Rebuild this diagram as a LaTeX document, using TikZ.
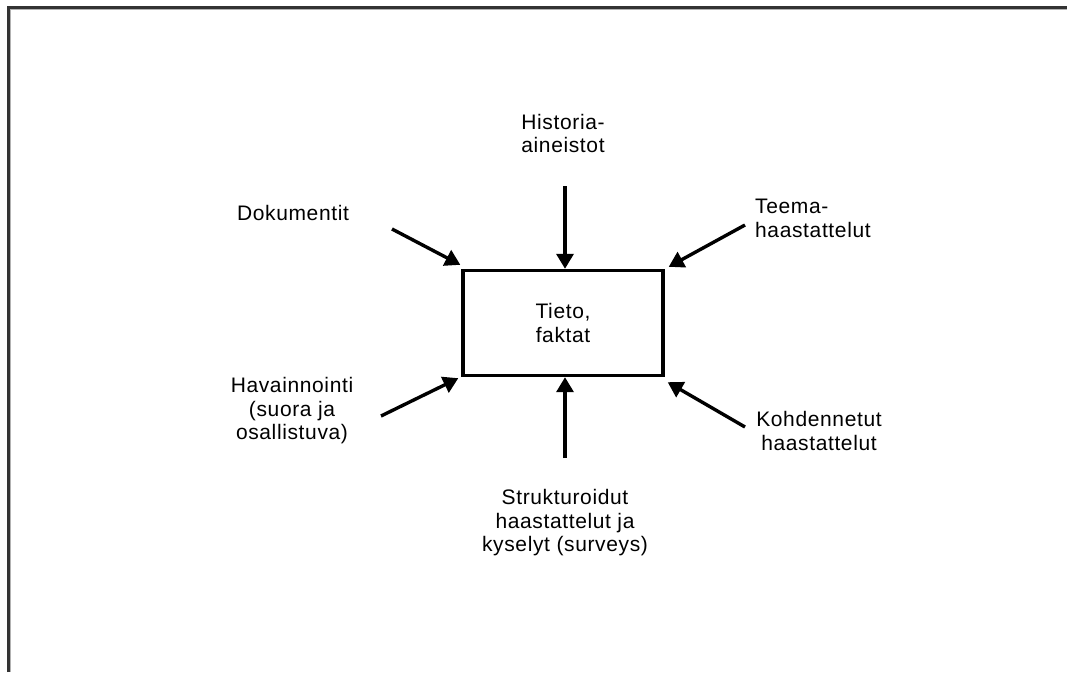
\documentclass[tikz,border=0pt]{standalone}
\usepackage{fontspec}
\setmainfont[LetterSpace=3]{Liberation Sans}
\usetikzlibrary{arrows.meta}
\begin{document}
\begin{tikzpicture}[x=1pt,y=-1pt,
  lbl/.style={inner sep=0pt,align=center,font=\fontsize{21}{23.5}\selectfont},
  arr/.style={line width=3.4pt,-{Triangle[length=15pt,width=17pt]}},
  mainbox/.style={draw,line width=3.4pt,minimum width=200pt,minimum height=105pt,
    inner sep=0pt,align=center,font=\fontsize{21}{23.5}\selectfont}]
\useasboundingbox (0,0) rectangle (1067,672);
% window frame on the left and top
\draw[line width=3pt,black!80] (8,672) -- (8,7) -- (1067,7);
\draw[line width=1.2pt,black!30] (10.4,672) -- (10.4,9.4) -- (1067,9.4);
% central box
\node[mainbox] (box) at (563,323) {Tieto,\\faktat};
% sources
\node[lbl] (hist) at (563,133.5) {Historia-\\aineistot};
\node[lbl] (dok) at (293,213) {Dokumentit};
\node[lbl,anchor=west,align=left] (teema) at (755,218.5) {Teema-\\haastattelut};
\node[lbl] (hav) at (292,411) {Havainnointi\\(suora ja\\osallistuva)};
\node[lbl] (kohd) at (819,431) {Kohdennetut\\haastattelut};
\node[lbl] (strk) at (565,523) {Strukturoidut\\haastattelut ja\\kyselyt (surveys)};
% arrow tails
\coordinate (tHist) at (565,186);
\coordinate (tDok) at (392,229);
\coordinate (tTeema) at (745,225);
\coordinate (tHav) at (381,416);
\coordinate (tKohd) at (745,427);
\coordinate (tStrk) at (565,458);
% arrows into the box
\draw[arr] (tHist) -- (tHist |- box.north);
\draw[arr] (tDok) -- ([shift={(-1,-4)}]box.north west);
\draw[arr] (tTeema) -- ([shift={(4,-2)}]box.north east);
\draw[arr] (tHav) -- ([shift={(-3,1)}]box.south west);
\draw[arr] (tKohd) -- ([shift={(3,5)}]box.south east);
\draw[arr] (tStrk) -- (tStrk |- box.south);
\end{tikzpicture}
\end{document}
